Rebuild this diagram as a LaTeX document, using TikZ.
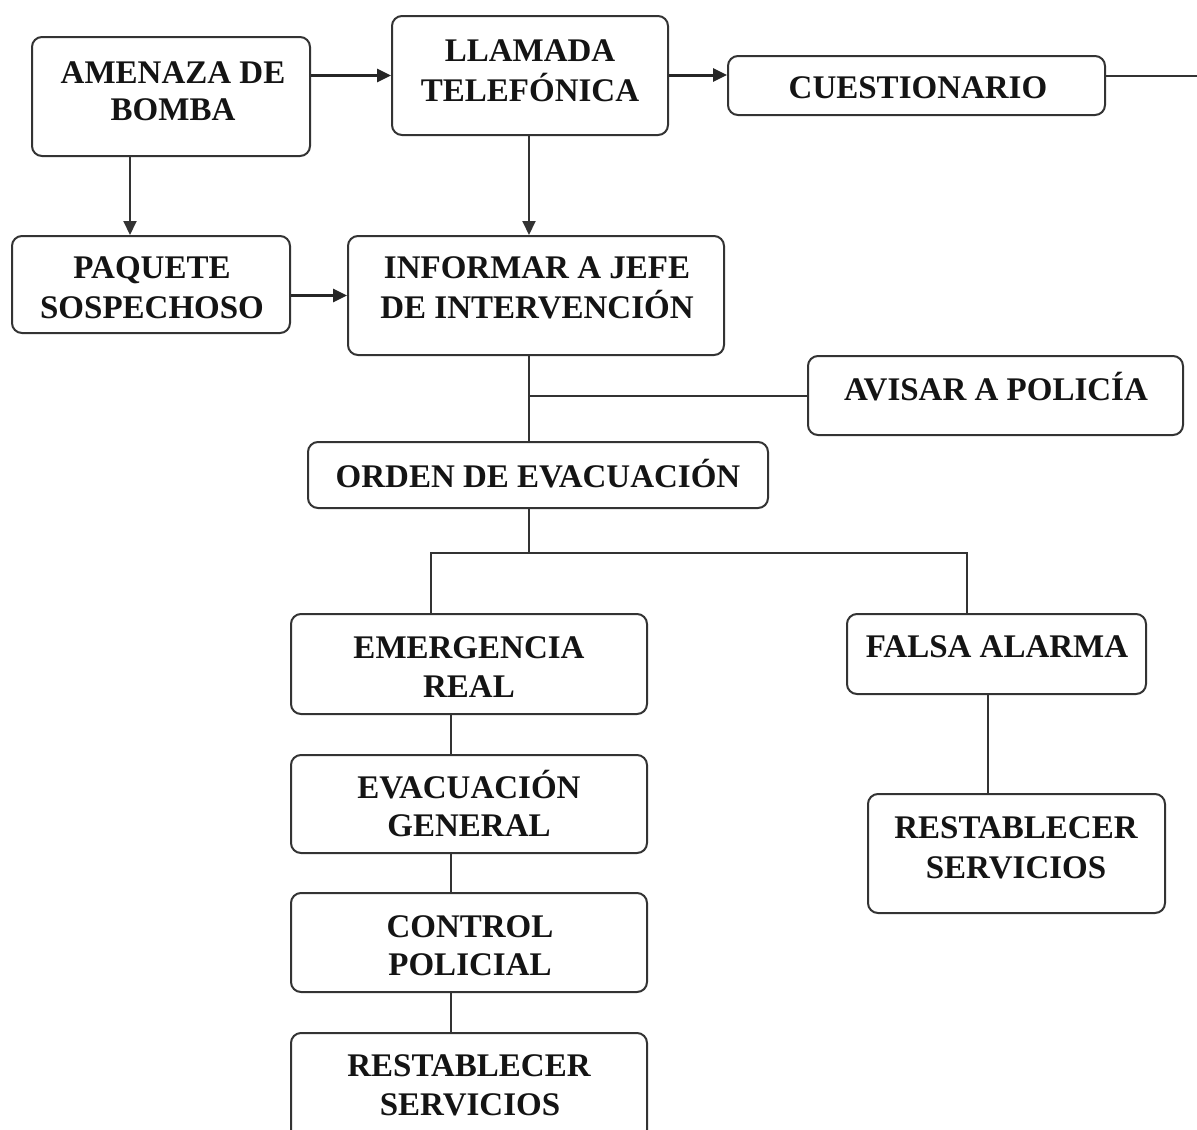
\documentclass[tikz,border=0pt]{standalone}
\usepackage{fontspec}
\setmainfont{Liberation Serif}
\usetikzlibrary{arrows.meta}
\begin{document}
\begin{tikzpicture}[x=1pt,y=-1pt,
  box/.style={draw=black!80, line width=2pt, rounded corners=10pt, fill=white, inner sep=0pt},
  txt/.style={anchor=base, inner sep=0pt, font=\fontsize{33}{38}\selectfont\bfseries, text=black!92},
  con/.style={draw=black!80, line width=2pt},
  thick con/.style={draw=black!85, line width=3pt},
  arr/.style={con, -{Triangle[length=14pt,width=13pt]}},
  thick arr/.style={thick con, -{Triangle[length=14pt,width=13pt]}}]
\useasboundingbox (0,0) rectangle (1197,1130);
\clip (0,0) rectangle (1197,1130);
% boxes
\node[box, minimum width=278pt, minimum height=119pt] (amen) at (171,96.5) {};
\node[box, minimum width=276pt, minimum height=119pt] (llam) at (530,75.5) {};
\node[box, minimum width=377pt, minimum height=59pt] (cues) at (916.5,85.5) {};
\node[box, minimum width=278pt, minimum height=97pt] (paq) at (151,284.5) {};
\node[box, minimum width=376pt, minimum height=119pt] (inf) at (536,295.5) {};
\node[box, minimum width=375pt, minimum height=79pt] (avis) at (995.5,395.5) {};
\node[box, minimum width=460pt, minimum height=66pt] (ord) at (538,475) {};
\node[box, minimum width=356pt, minimum height=100pt] (emer) at (469,664) {};
\node[box, minimum width=356pt, minimum height=98pt] (evac) at (469,804) {};
\node[box, minimum width=356pt, minimum height=99pt] (ctrl) at (469,942.5) {};
\node[box, minimum width=356pt, minimum height=107pt] (restA) at (469,1086.5) {};
\node[box, minimum width=299pt, minimum height=80pt] (falsa) at (996.5,654) {};
\node[box, minimum width=297pt, minimum height=119pt] (restB) at (1016.5,853.5) {};
% texts
\node[txt] (t1) at (173,83) {AMENAZA DE};
\node[txt] (t2) at (173,120) {BOMBA};
\node[txt] (t3) at (530,61) {LLAMADA};
\node[txt] (t4) at (530,101) {TELEFÓNICA};
\node[txt] (t5) at (918,98) {CUESTIONARIO};
\node[txt] (t6) at (152,278) {PAQUETE};
\node[txt] (t7) at (152,318) {SOSPECHOSO};
\node[txt] (t8) at (537,278) {INFORMAR A JEFE};
\node[txt] (t9) at (537,318) {DE INTERVENCIÓN};
\node[txt] (t10) at (996,400) {AVISAR A POLICÍA};
\node[txt] (t11) at (538,487) {ORDEN DE EVACUACIÓN};
\node[txt] (t12) at (469,658) {EMERGENCIA};
\node[txt] (t13) at (469,697) {REAL};
\node[txt] (t14) at (469,798) {EVACUACIÓN};
\node[txt] (t15) at (469,836) {GENERAL};
\node[txt] (t16) at (470,937) {CONTROL};
\node[txt] (t17) at (470,975) {POLICIAL};
\node[txt] (t18) at (469,1076) {RESTABLECER};
\node[txt] (t19) at (470,1115) {SERVICIOS};
\node[txt] (t20) at (997,657) {FALSA ALARMA};
\node[txt] (t21) at (1016,838) {RESTABLECER};
\node[txt] (t22) at (1016,878) {SERVICIOS};
% helper coordinates
\coordinate (xa) at (130,0);
\coordinate (xm) at (529,0);
\coordinate (ya) at (0,75);
\coordinate (cend) at (1200,76);
\coordinate (jp) at (529,395.5);
\coordinate (jb) at (529,553);
\coordinate (jl) at (431,553);
\coordinate (jr) at (967,553);
\coordinate (xl) at (451,0);
\coordinate (xr) at (988,0);
% connectors
\draw[thick arr] (amen.east |- llam.west) -- (llam.west);
\draw[thick arr] (llam.east |- ya) -- (cues.west |- ya);
\draw[con] (cues.east |- cend) -- (cend);
\draw[arr] (amen.south -| xa) -- (paq.north -| xa);
\draw[arr] (llam.south -| xm) -- (inf.north -| xm);
\draw[thick arr] (paq.east |- inf.west) -- (inf.west);
\draw[con] (inf.south -| xm) -- (ord.north -| xm);
\draw[con] (jp) -- (avis.west);
\draw[con] (ord.south -| xm) -- (jb);
\draw[con] (emer.north -| jl) -- (jl) -- (jr) -- (falsa.north -| jr);
\draw[con] (emer.south -| xl) -- (evac.north -| xl);
\draw[con] (evac.south -| xl) -- (ctrl.north -| xl);
\draw[con] (ctrl.south -| xl) -- (restA.north -| xl);
\draw[con] (falsa.south -| xr) -- (restB.north -| xr);
\end{tikzpicture}
\end{document}
